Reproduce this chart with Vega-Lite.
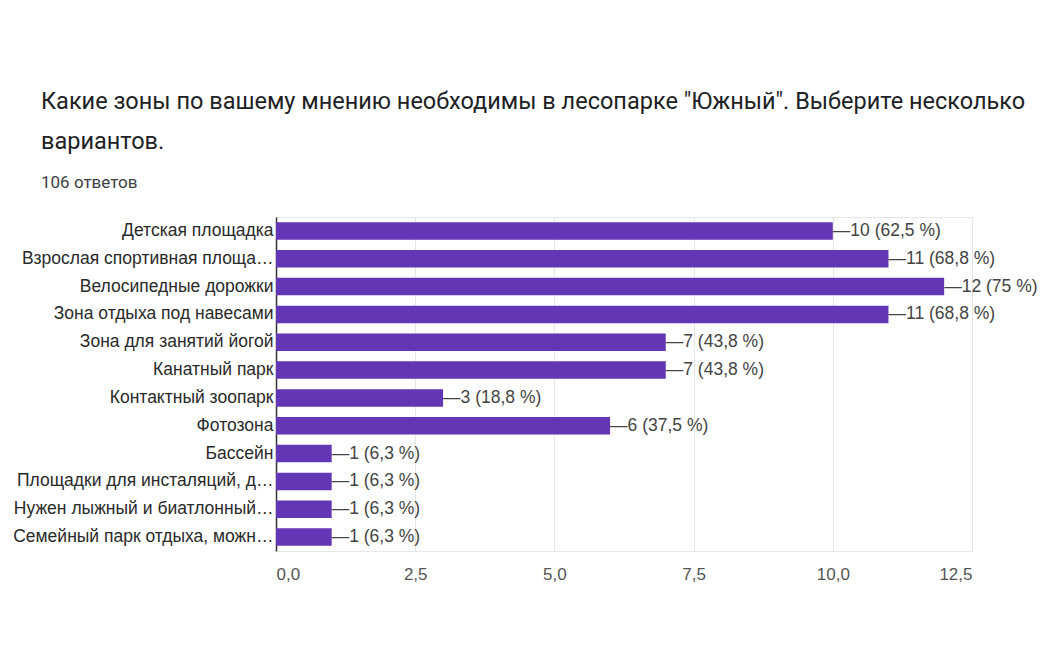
{
  "$schema": "https://vega.github.io/schema/vega-lite/v6.json",
  "width": 696,
  "height": 334,
  "autosize": {"type": "none"},
  "padding": {"left": 276, "top": 217, "right": 82, "bottom": 99},
  "background": "white",
  "title": {
    "text": ["Какие зоны по вашему мнению необходимы в лесопарке \"Южный\". Выберите несколько", "вариантов."],
    "subtitle": "106 ответов",
    "anchor": "start",
    "frame": "group",
    "dx": -235,
    "offset": 26,
    "font": "Roboto",
    "fontSize": 23.5,
    "fontWeight": "normal",
    "color": "#202124",
    "lineHeight": 40,
    "subtitleFont": "Roboto",
    "subtitleFontSize": 17,
    "subtitleColor": "#3c4043",
    "subtitlePadding": 22
  },
  "data": {
    "values": [
      {"zone": "Детская площадка", "count": 10, "label": "—10 (62,5 %)"},
      {"zone": "Взрослая спортивная площа…", "count": 11, "label": "—11 (68,8 %)"},
      {"zone": "Велосипедные дорожки", "count": 12, "label": "—12 (75 %)"},
      {"zone": "Зона отдыха под навесами", "count": 11, "label": "—11 (68,8 %)"},
      {"zone": "Зона для занятий йогой", "count": 7, "label": "—7 (43,8 %)"},
      {"zone": "Канатный парк", "count": 7, "label": "—7 (43,8 %)"},
      {"zone": "Контактный зоопарк", "count": 3, "label": "—3 (18,8 %)"},
      {"zone": "Фотозона", "count": 6, "label": "—6 (37,5 %)"},
      {"zone": "Бассейн", "count": 1, "label": "—1 (6,3 %)"},
      {"zone": "Площадки для инсталяций, д…", "count": 1, "label": "—1 (6,3 %)"},
      {"zone": "Нужен лыжный и биатлонный…", "count": 1, "label": "—1 (6,3 %)"},
      {"zone": "Семейный парк отдыха, можн…", "count": 1, "label": "—1 (6,3 %)"}
    ]
  },
  "encoding": {
    "y": {
      "field": "zone",
      "type": "nominal",
      "sort": null,
      "scale": {"paddingInner": 0.37, "paddingOuter": 0.185},
      "axis": {
        "title": null,
        "ticks": false,
        "domain": true,
        "domainColor": "#333333",
        "domainWidth": 1.5,
        "labelFont": "Liberation Sans",
        "labelFontSize": 17.5,
        "labelColor": "#2a2a2a",
        "labelPadding": 3,
        "labelLimit": 300,
        "grid": false
      }
    },
    "x": {
      "field": "count",
      "type": "quantitative",
      "scale": {"domain": [0, 12.5], "nice": false},
      "axis": {
        "title": null,
        "values": [0, 2.5, 5, 7.5, 10, 12.5],
        "format": ".1f",
        "labelExpr": "replace(datum.label, '.', ',')",
        "ticks": false,
        "domain": false,
        "grid": true,
        "gridColor": "#e6e6e6",
        "labelFont": "Liberation Sans",
        "labelFontSize": 17,
        "labelColor": "#555555",
        "labelPadding": 15
      }
    }
  },
  "layer": [
    {"mark": {"type": "bar", "color": "#6236b5"}},
    {
      "mark": {"type": "text", "align": "left", "baseline": "middle", "dx": 0, "font": "Liberation Sans", "fontSize": 17.5, "color": "#444444"},
      "encoding": {"text": {"field": "label"}}
    }
  ],
  "config": {
    "view": {"stroke": "#e6e6e6"}
  }
}
